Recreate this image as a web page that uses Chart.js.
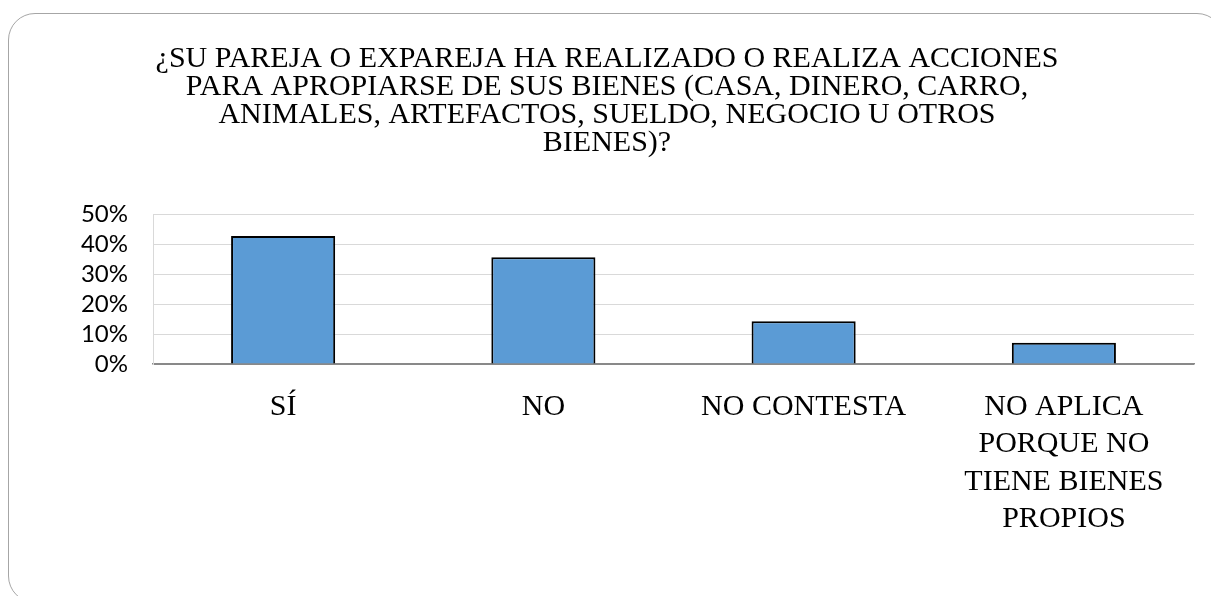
<!DOCTYPE html>
<html lang="es">
<head>
    <meta charset="UTF-8">
    <title>Apropiación de bienes</title>
    <script src="https://cdn.jsdelivr.net/npm/chart.js@4.4.1/dist/chart.umd.min.js"></script>
    <style>
        html, body { margin: 0; padding: 0; background: #fff; overflow: hidden; }
        .frame {
            position: absolute;
            left: 8px; top: 13px;
            width: 1216px; height: 590px;
            border: 1.5px solid #a6a6a6;
            border-radius: 27px;
            box-sizing: border-box;
        }
        .wrap { position: absolute; left: 0; top: 0; width: 1211px; height: 596px; }
    </style>
</head>
<body>
    <div class="frame"></div>
    <div class="wrap"><canvas id="chart"></canvas></div>

    <script>
        const categories = ['SÍ', 'NO', 'NO CONTESTA', ['NO APLICA', 'PORQUE NO', 'TIENE BIENES', 'PROPIOS']];
        const values = [42.86, 35.71, 14.29, 7.14];
        const yTicks = [0, 10, 20, 30, 40, 50];
        const titleLines = [
            '¿SU PAREJA O EXPAREJA HA REALIZADO O REALIZA ACCIONES',
            'PARA APROPIARSE DE SUS BIENES (CASA, DINERO, CARRO,',
            'ANIMALES, ARTEFACTOS, SUELDO, NEGOCIO U OTROS',
            'BIENES)?'
        ];

        const serif = "'Liberation Serif', 'Times New Roman', serif";

        new Chart(document.getElementById('chart'), {
            type: 'bar',
            data: {
                labels: categories,
                datasets: [{
                    data: values,
                    backgroundColor: '#5b9bd5',
                    borderColor: '#000',
                    borderWidth: 2,
                    barPercentage: 0.4,
                    categoryPercentage: 1
                }]
            },
            options: {
                responsive: true,
                maintainAspectRatio: false,
                animation: false,
                layout: { padding: { left: 20, right: 17, top: 0, bottom: 64 } },
                plugins: {
                    legend: { display: false },
                    tooltip: { enabled: false },
                    title: {
                        display: true,
                        text: titleLines,
                        color: '#000',
                        font: { family: serif, size: 30, weight: 'normal', lineHeight: 0.93 },
                        padding: { top: 45, bottom: 58 }
                    }
                },
                scales: {
                    x: {
                        afterFit: (scale) => { scale.height = 168; },
                        grid: { display: false, drawTicks: false },
                        border: { display: true, color: '#898989', width: 1.5 },
                        ticks: {
                            color: '#000',
                            font: { family: serif, size: 30, lineHeight: 1.25 },
                            padding: 24,
                            maxRotation: 0,
                            autoSkip: false
                        }
                    },
                    y: {
                        min: 0,
                        max: 50,
                        afterFit: (scale) => { scale.width = 133; },
                        afterBuildTicks: (scale) => { scale.ticks = yTicks.map(v => ({ value: v })); },
                        grid: {
                            drawTicks: false,
                            color: (ctx) => ctx.tick && ctx.tick.value === 0 ? '#898989' : '#d9d9d9',
                            lineWidth: 1
                        },
                        border: { display: true, color: '#d9d9d9', width: 1 },
                        ticks: {
                            color: '#000',
                            font: { family: 'Lato', size: 24 },
                            padding: 25,
                            autoSkip: false,
                            callback: (v) => v + '%'
                        }
                    }
                }
            }
        });
    </script>
</body>
</html>
